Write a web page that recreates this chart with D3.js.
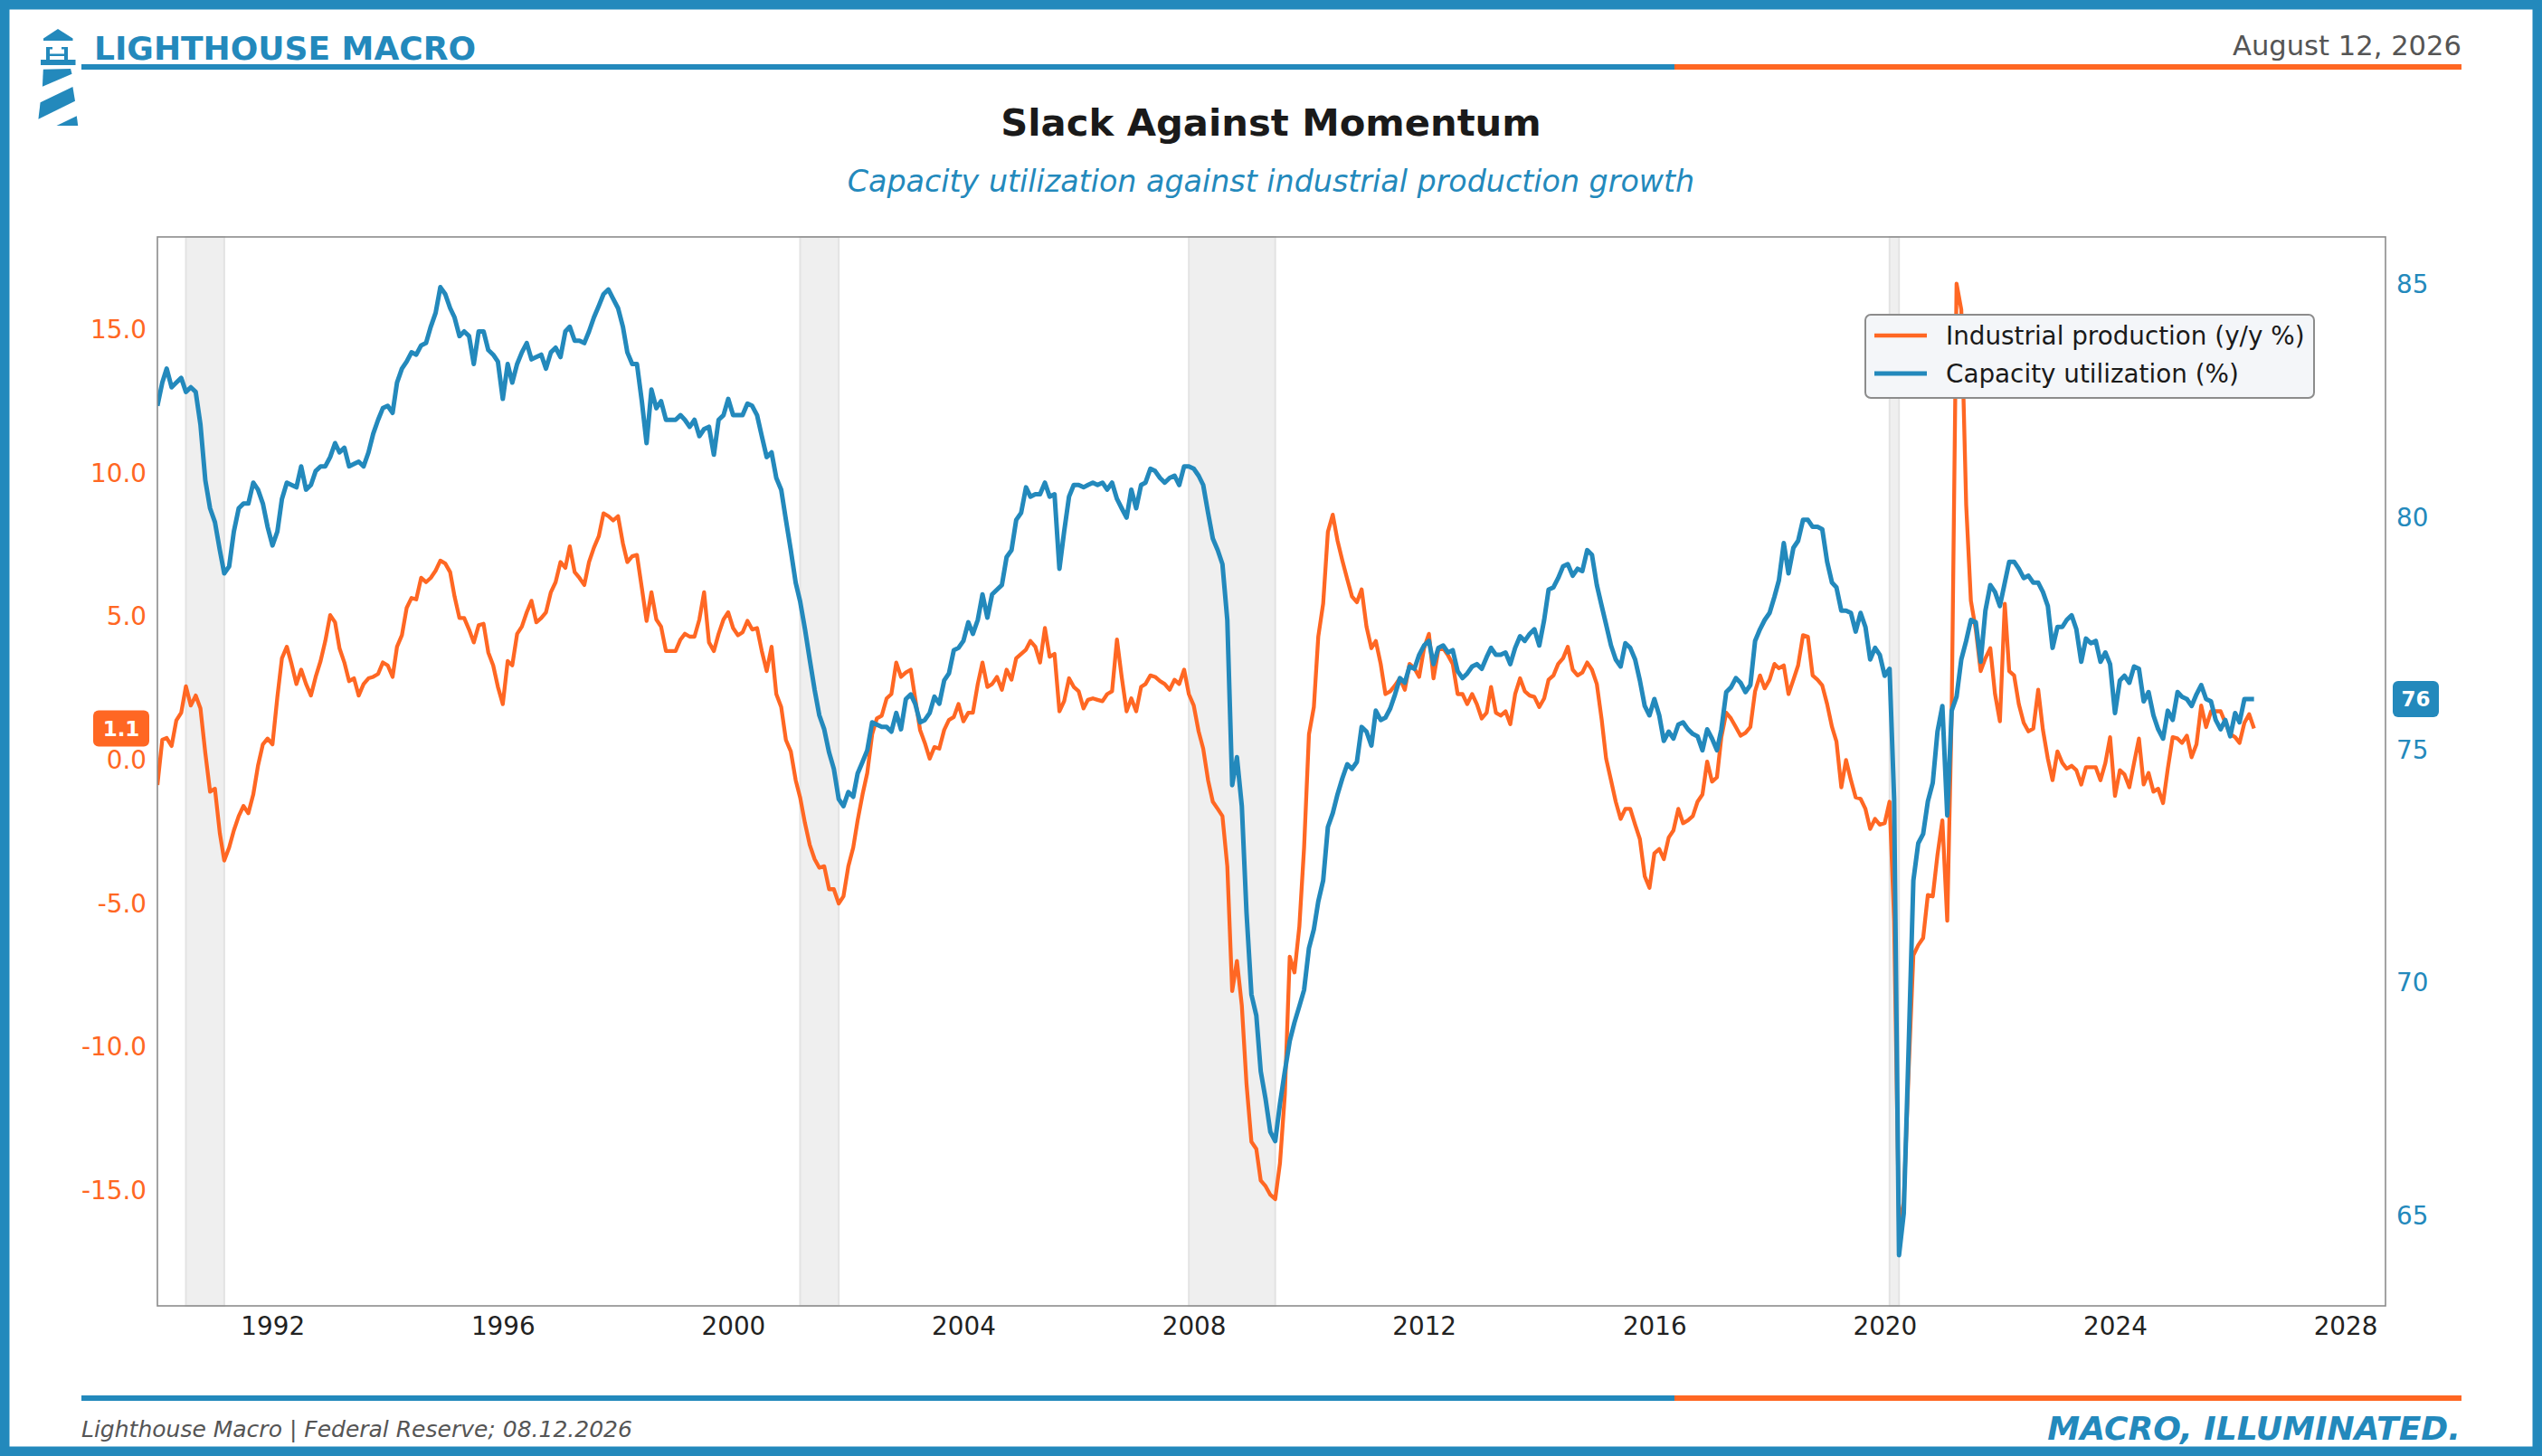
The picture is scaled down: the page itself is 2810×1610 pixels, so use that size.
<!DOCTYPE html>
<html>
<head>
<meta charset="utf-8">
<title>Slack Against Momentum</title>
<script src="https://cdn.jsdelivr.net/npm/d3@7"></script>
<style>
  body { margin: 0; background: #fff; }
  svg { display: block; }
  text { font-family: "DejaVu Sans", sans-serif; }
</style>
</head>
<body>
<script>
//////////////////////////////////////////////////////////////////////////////
// Data: monthly values starting January 1990

// Industrial production, year over year %
let ipYoY = [
  -0.87, 0.71, 0.77, 0.49, 1.38, 1.65, 2.57, 1.9, 2.25, 1.8, 0.24, -1.1,
  -1.0, -2.55, -3.5, -3.05, -2.45, -1.95, -1.6, -1.85, -1.2, -0.2, 0.55, 0.75,
  0.55, 2.2, 3.55, 3.95, 3.35, 2.65, 3.15, 2.65, 2.25, 2.9, 3.45, 4.15,
  5.05, 4.8, 3.9, 3.4, 2.75, 2.85, 2.25, 2.65, 2.85, 2.9, 3.0, 3.4,
  3.3, 2.9, 3.95, 4.35, 5.3, 5.65, 5.6, 6.35, 6.2, 6.35, 6.6, 6.95,
  6.85, 6.55, 5.7, 4.95, 4.95, 4.55, 4.1, 4.7, 4.75, 3.75, 3.3, 2.55,
  1.95, 3.45, 3.3, 4.4, 4.65, 5.15, 5.55, 4.8, 4.95, 5.15, 5.85, 6.2,
  6.9, 6.7, 7.45, 6.55, 6.35, 6.1, 6.9, 7.4, 7.8, 8.6, 8.5, 8.35,
  8.5, 7.55, 6.9, 7.1, 7.15, 6.0, 4.85, 5.85, 4.9, 4.65, 3.8, 3.8,
  3.8, 4.2, 4.4, 4.3, 4.3, 4.9, 5.85, 4.1, 3.8, 4.4, 4.9, 5.15,
  4.6, 4.35, 4.45, 4.85, 4.55, 4.6, 3.8, 3.1, 3.95, 2.3, 1.85, 0.7,
  0.3, -0.7, -1.3, -2.2, -2.95, -3.45, -3.75, -3.7, -4.5, -4.5, -5.0, -4.75,
  -3.7, -3.05, -2.1, -1.2, -0.45, 0.9, 1.45, 1.55, 2.15, 2.3, 3.4, 2.9,
  3.05, 3.15, 2.15, 1.05, 0.6, 0.05, 0.45, 0.4, 1.05, 1.4, 1.5, 1.95,
  1.35, 1.65, 1.65, 2.65, 3.4, 2.55, 2.65, 2.9, 2.45, 3.15, 2.8, 3.55,
  3.7, 3.85, 4.15, 3.95, 3.4, 4.6, 3.6, 3.7, 1.7, 2.05, 2.85, 2.55,
  2.4, 1.8, 2.1, 2.15, 2.1, 2.05, 2.3, 2.4, 4.2, 2.9, 1.7, 2.15,
  1.7, 2.55, 2.65, 2.95, 2.9, 2.75, 2.65, 2.45, 2.8, 2.65, 3.15, 2.3,
  1.9, 1.0, 0.4, -0.7, -1.45, -1.7, -1.95, -3.7, -8.05, -7.0, -8.55, -11.3,
  -13.3, -13.55, -14.65, -14.85, -15.15, -15.3, -14.05, -11.65, -6.85, -7.4, -5.8, -3.05,
  0.9, 1.85, 4.3, 5.45, 7.95, 8.55, 7.65, 6.95, 6.3, 5.7, 5.5, 5.95,
  4.65, 3.9, 4.15, 3.35, 2.3, 2.4, 2.6, 2.85, 2.45, 3.35, 3.2, 2.9,
  3.9, 4.4, 2.85, 3.85, 3.9, 3.65, 3.35, 2.3, 2.3, 1.95, 2.3, 1.95,
  1.45, 1.65, 2.55, 1.65, 1.55, 1.7, 1.25, 2.3, 2.85, 2.4, 2.25, 2.2,
  1.85, 2.15, 2.8, 2.95, 3.35, 3.55, 3.95, 3.15, 2.95, 3.05, 3.4, 3.15,
  2.65, 1.4, 0.05, -0.7, -1.45, -2.05, -1.7, -1.7, -2.25, -2.75, -4.05, -4.45,
  -3.25, -3.1, -3.45, -2.7, -2.45, -1.7, -2.2, -2.1, -1.95, -1.45, -1.2, -0.05,
  -0.75, -0.6, 0.8, 1.65, 1.45, 1.15, 0.85, 0.95, 1.15, 2.4, 2.95, 2.5,
  2.8, 3.35, 3.2, 3.3, 2.3, 2.8, 3.3, 4.35, 4.3, 2.95, 2.8, 2.6,
  1.95, 1.15, 0.65, -0.95, 0.0, -0.7, -1.3, -1.35, -1.7, -2.4, -2.05, -2.25,
  -2.2, -1.45, -5.6, -16.3, -15.4, -10.8, -6.8, -6.45, -6.2, -4.7, -4.75, -3.3,
  -2.1, -5.6, 1.65, 16.6, 15.7, 8.9, 5.55, 4.55, 3.1, 3.55, 3.9, 2.3,
  1.35, 5.45, 3.1, 2.95, 1.95, 1.3, 1.0, 1.1, 2.45, 1.05, 0.05, -0.7,
  0.3, -0.1, -0.3, -0.2, -0.35, -0.85, -0.25, -0.25, -0.25, -0.7, -0.1, 0.8,
  -1.25, -0.35, -0.5, -0.95, -0.1, 0.75, -0.85, -0.45, -1.1, -1.0, -1.5, -0.3,
  0.8, 0.75, 0.6, 0.85, 0.1, 0.55, 1.9, 1.15, 1.7, 1.7, 1.7, 1.3,
  0.9, 0.8, 0.6, 1.3, 1.6, 1.1
];

// Capacity utilization, %
let capUtil = [
  82.4, 82.9, 83.2, 82.8, 82.9, 83.0, 82.7, 82.8, 82.7, 82.0, 80.8, 80.2,
  79.9, 79.3, 78.8, 78.95, 79.7, 80.2, 80.3, 80.3, 80.75, 80.6, 80.3, 79.8,
  79.4, 79.7, 80.4, 80.75, 80.7, 80.65, 81.1, 80.6, 80.7, 81.0, 81.1, 81.1,
  81.3, 81.6, 81.4, 81.5, 81.1, 81.15, 81.2, 81.1, 81.4, 81.8, 82.1, 82.35,
  82.4, 82.25, 82.9, 83.2, 83.35, 83.55, 83.5, 83.7, 83.75, 84.1, 84.4, 84.95,
  84.8, 84.5, 84.3, 83.9, 84.0, 83.9, 83.3, 84.0, 84.0, 83.6, 83.5, 83.35,
  82.55, 83.3, 82.9, 83.3, 83.55, 83.75, 83.4, 83.45, 83.5, 83.2, 83.55, 83.65,
  83.45, 84.0, 84.1, 83.8, 83.8, 83.75, 84.0, 84.3, 84.55, 84.8, 84.9, 84.7,
  84.5, 84.1, 83.55, 83.3, 83.3, 82.5, 81.6, 82.75, 82.35, 82.5, 82.1, 82.1,
  82.1, 82.2, 82.1, 81.95, 82.1, 81.75, 81.9, 81.95, 81.35, 82.1, 82.2, 82.55,
  82.2, 82.2, 82.2, 82.45, 82.4, 82.2, 81.75, 81.3, 81.4, 80.85, 80.6, 79.95,
  79.3, 78.6, 78.2, 77.6, 76.95, 76.3, 75.75, 75.45, 74.95, 74.6, 73.95, 73.8,
  74.1, 74.0, 74.5, 74.75, 75.0, 75.6, 75.55, 75.5, 75.5, 75.4, 75.8, 75.45,
  76.1, 76.2, 76.0, 75.6, 75.65, 75.8, 76.15, 76.0, 76.5, 76.65, 77.15, 77.2,
  77.35, 77.75, 77.5, 77.8, 78.35, 77.85, 78.35, 78.45, 78.55, 79.15, 79.3, 79.95,
  80.1, 80.65, 80.45, 80.5, 80.5, 80.75, 80.45, 80.5, 78.9, 79.7, 80.45, 80.7,
  80.7, 80.65, 80.7, 80.75, 80.7, 80.75, 80.6, 80.75, 80.4, 80.2, 80.0, 80.6,
  80.2, 80.7, 80.75, 81.05, 81.0, 80.85, 80.75, 80.85, 80.9, 80.7, 81.1, 81.1,
  81.05, 80.9, 80.7, 80.1, 79.55, 79.3, 79.0, 77.8, 74.25, 74.85, 73.8, 71.5,
  69.75, 69.3, 68.1, 67.5, 66.8, 66.6, 67.4, 68.1, 68.75, 69.15, 69.5, 69.85,
  70.75, 71.15, 71.75, 72.2, 73.35, 73.65, 74.05, 74.4, 74.7, 74.6, 74.75, 75.5,
  75.4, 75.1, 75.85, 75.65, 75.7, 75.9, 76.2, 76.55, 76.45, 76.8, 76.75, 77.05,
  77.25, 77.35, 76.85, 77.2, 77.25, 77.1, 77.15, 76.7, 76.55, 76.65, 76.8, 76.85,
  76.75, 77.0, 77.2, 77.05, 77.05, 77.1, 76.85, 77.2, 77.45, 77.35, 77.5, 77.6,
  77.25, 77.8, 78.45, 78.5, 78.7, 78.95, 79.0, 78.75, 78.9, 78.85, 79.3, 79.2,
  78.55, 78.1, 77.7, 77.25, 76.95, 76.8, 77.3, 77.2, 76.95, 76.5, 75.95, 75.75,
  76.1, 75.75, 75.2, 75.4, 75.25, 75.55, 75.6, 75.45, 75.35, 75.3, 75.0, 75.45,
  75.25, 75.0, 75.45, 76.25, 76.35, 76.55, 76.45, 76.25, 76.4, 77.35, 77.6, 77.8,
  77.95, 78.3, 78.65, 79.45, 78.8, 79.35, 79.5, 79.95, 79.95, 79.8, 79.8, 79.75,
  79.05, 78.6, 78.5, 78.0, 78.0, 77.95, 77.55, 77.95, 77.65, 76.95, 77.2, 77.05,
  76.6, 76.75, 73.95, 64.15, 65.05, 68.6, 72.2, 73.0, 73.2, 73.9, 74.3, 75.4,
  75.95, 73.6, 75.85, 76.15, 76.95, 77.35, 77.8, 77.75, 76.9, 78.0, 78.55, 78.4,
  78.1, 78.6, 79.05, 79.05, 78.9, 78.7, 78.75, 78.6, 78.6, 78.4, 78.1, 77.2,
  77.65, 77.65, 77.8, 77.9, 77.6, 76.9, 77.4, 77.3, 77.35, 76.9, 77.1, 76.85,
  75.8, 76.5, 76.6, 76.45, 76.8, 76.75, 76.05, 76.25, 75.75, 75.45, 75.25, 75.85,
  75.65, 76.25, 76.15, 76.1, 75.95, 76.2, 76.4, 76.1, 76.05, 75.65, 75.45, 75.65,
  75.3, 75.8, 75.6, 76.1, 76.1, 76.1
];

// NBER recessions (start month, end month)
let recessions = [
  ["1990-07-01", "1991-03-01"],
  ["2001-03-01", "2001-11-01"],
  ["2007-12-01", "2009-06-01"],
  ["2020-02-01", "2020-04-01"]
];

let yearTicks = [1992, 1996, 2000, 2004, 2008, 2012, 2016, 2020, 2024, 2028];
let ipTicks = [-15, -10, -5, 0, 5, 10, 15];
let cuTicks = [65, 70, 75, 80, 85];

//////////////////////////////////////////////////////////////////////////////
// Canvas and scales

let width = 2810;
let height = 1610;
let blue = "#2389bc";
let orange = "#ff6723";
let plot = { left: 174, right: 2637, top: 262, bottom: 1444 };

let parseDate = d3.timeParse("%Y-%m-%d");
let dates = ipYoY.map((d, i) => new Date(1990, i, 1));

let svg = d3.select("body").append("svg")
  .attr("width", width)
  .attr("height", height);

let x = d3.scaleTime()
  .domain([new Date(1990, 0, 1), new Date(2028, 8, 12)])
  .range([plot.left, plot.right]);

let yIP = d3.scaleLinear()
  .domain([-19.02, 18.23])
  .range([plot.bottom, plot.top]);

let yCU = d3.scaleLinear()
  .domain([63.06, 86.03])
  .range([plot.bottom, plot.top]);

//////////////////////////////////////////////////////////////////////////////
// Frame, header and footer

svg.append("rect")
  .attr("x", 5.25).attr("y", 5.25)
  .attr("width", width - 10.5).attr("height", height - 10.5)
  .attr("fill", "#fff")
  .attr("stroke", blue)
  .attr("stroke-width", 10.5);

// lighthouse logo
let logo = svg.append("g").attr("fill", blue);
logo.append("polygon").attr("points", "64,32 80.5,42.5 80.5,45 48,45 48,42.5");
logo.append("rect").attr("x", 51).attr("y", 52).attr("width", 4).attr("height", 15);
logo.append("rect").attr("x", 71).attr("y", 52).attr("width", 4).attr("height", 15);
logo.append("rect").attr("x", 51).attr("y", 52).attr("width", 7).attr("height", 2.5);
logo.append("rect").attr("x", 68).attr("y", 52).attr("width", 7).attr("height", 2.5);
logo.append("rect").attr("x", 51).attr("y", 59.5).attr("width", 24).attr("height", 2.5);
logo.append("rect").attr("x", 45).attr("y", 66).attr("width", 38.5).attr("height", 6);
logo.append("polygon").attr("points", "47.8,76.7 78.1,76 79.5,81.7 46.9,95.7");
logo.append("polygon").attr("points", "44.6,113.3 80.4,96 83,111.7 42.4,131.7");
logo.append("polygon").attr("points", "62.5,139 84.8,128.3 86.2,139");

svg.append("text")
  .attr("x", 104).attr("y", 66)
  .attr("fill", blue)
  .style("font-size", "36px")
  .style("font-weight", "bold")
  .text("LIGHTHOUSE MACRO");

svg.append("text")
  .attr("x", 2721).attr("y", 61)
  .attr("text-anchor", "end")
  .attr("fill", "#555")
  .style("font-size", "30.6px")
  .text("August 12, 2026");

// two-tone rules under the header and above the footer
[74, 1546].forEach(function (yy) {
  svg.append("rect").attr("x", 90).attr("y", yy - 3)
    .attr("width", 1851 - 90).attr("height", 6).attr("fill", blue);
  svg.append("rect").attr("x", 1851).attr("y", yy - 3)
    .attr("width", 2721 - 1851).attr("height", 6).attr("fill", orange);
});

svg.append("text")
  .attr("x", 1405).attr("y", 150)
  .attr("text-anchor", "middle")
  .attr("fill", "#1a1a1a")
  .style("font-size", "41.7px")
  .style("font-weight", "bold")
  .text("Slack Against Momentum");

svg.append("text")
  .attr("x", 1405).attr("y", 212)
  .attr("text-anchor", "middle")
  .attr("fill", blue)
  .style("font-size", "33.3px")
  .style("font-style", "italic")
  .text("Capacity utilization against industrial production growth");

svg.append("text")
  .attr("x", 90).attr("y", 1589)
  .attr("fill", "#555")
  .style("font-size", "25px")
  .style("font-style", "italic")
  .text("Lighthouse Macro | Federal Reserve; 08.12.2026");

svg.append("text")
  .attr("x", 2720).attr("y", 1592)
  .attr("text-anchor", "end")
  .attr("fill", blue)
  .style("font-size", "36.1px")
  .style("font-weight", "bold")
  .style("font-style", "italic")
  .text("MACRO, ILLUMINATED.");

//////////////////////////////////////////////////////////////////////////////
// Plot area

svg.append("clipPath").attr("id", "plot-clip")
  .append("rect")
  .attr("x", plot.left).attr("y", plot.top)
  .attr("width", plot.right - plot.left).attr("height", plot.bottom - plot.top);

// recession shading
svg.append("g")
  .selectAll("rect")
  .data(recessions)
  .join("rect")
  .attr("x", d => x(parseDate(d[0])))
  .attr("y", plot.top)
  .attr("width", d => x(parseDate(d[1])) - x(parseDate(d[0])))
  .attr("height", plot.bottom - plot.top)
  .attr("fill", "#efefef")
  .attr("stroke", "#e3e3e3")
  .attr("stroke-width", 2);

let lines = svg.append("g").attr("clip-path", "url(#plot-clip)");

let ipLine = d3.line()
  .x((d, i) => x(dates[i]))
  .y(d => yIP(d));

let cuLine = d3.line()
  .x((d, i) => x(dates[i]))
  .y(d => yCU(d));

lines.append("path")
  .datum(ipYoY)
  .attr("d", ipLine)
  .attr("fill", "none")
  .attr("stroke", orange)
  .attr("stroke-width", 4.3)
  .attr("stroke-linejoin", "round");

lines.append("path")
  .datum(capUtil)
  .attr("d", cuLine)
  .attr("fill", "none")
  .attr("stroke", blue)
  .attr("stroke-width", 5)
  .attr("stroke-linejoin", "round");

// spines
svg.append("rect")
  .attr("x", plot.left).attr("y", plot.top)
  .attr("width", plot.right - plot.left).attr("height", plot.bottom - plot.top)
  .attr("fill", "none")
  .attr("stroke", "#8c8c8c")
  .attr("stroke-width", 1.6);

// axes
function styleAxis(g, color) {
  g.select(".domain").remove();
  g.selectAll("text")
    .attr("fill", color)
    .style("font-family", "'DejaVu Sans', sans-serif")
    .style("font-size", "27.8px");
}

svg.append("g")
  .attr("transform", `translate(${plot.left},0)`)
  .call(d3.axisLeft(yIP).tickValues(ipTicks).tickFormat(d => d.toFixed(1))
    .tickSize(0).tickPadding(12))
  .call(g => styleAxis(g, orange));

svg.append("g")
  .attr("transform", `translate(${plot.right},0)`)
  .call(d3.axisRight(yCU).tickValues(cuTicks).tickFormat(d3.format("d"))
    .tickSize(0).tickPadding(12))
  .call(g => styleAxis(g, blue));

svg.append("g")
  .attr("transform", `translate(0,${plot.bottom})`)
  .call(d3.axisBottom(x).tickValues(yearTicks.map(yr => new Date(yr, 0, 1)))
    .tickFormat(d3.timeFormat("%Y")).tickSize(0).tickPadding(12))
  .call(g => styleAxis(g, "#222"));

// last-value tags
let lastIP = ipYoY[ipYoY.length - 1];
let lastCU = capUtil[capUtil.length - 1];

let tags = [
  { x0: 103, w: 62, y: yIP(lastIP), fill: orange, label: lastIP.toFixed(1) },
  { x0: 2645, w: 51, y: yCU(lastCU), fill: blue, label: d3.format(".0f")(lastCU) }
];

tags.forEach(function (t) {
  svg.append("rect")
    .attr("x", t.x0).attr("y", t.y - 20)
    .attr("width", t.w).attr("height", 40)
    .attr("rx", 6)
    .attr("fill", t.fill);
  svg.append("text")
    .attr("x", t.x0 + t.w / 2).attr("y", t.y)
    .attr("dy", "0.36em")
    .attr("text-anchor", "middle")
    .attr("fill", "#fff")
    .style("font-size", "23px")
    .style("font-weight", "bold")
    .text(t.label);
});

// legend
let legend = svg.append("g");
legend.append("rect")
  .attr("x", 2062).attr("y", 348)
  .attr("width", 496).attr("height", 92)
  .attr("rx", 6)
  .attr("fill", "#f4f6f9")
  .attr("stroke", "#8c8c8c")
  .attr("stroke-width", 2);

let legendItems = [
  { label: "Industrial production (y/y %)", color: orange, w: 4.3 },
  { label: "Capacity utilization (%)", color: blue, w: 5 }
];

legendItems.forEach(function (item, i) {
  let cy = 371 + i * 42;
  legend.append("line")
    .attr("x1", 2072).attr("x2", 2130)
    .attr("y1", cy).attr("y2", cy)
    .attr("stroke", item.color)
    .attr("stroke-width", item.w);
  legend.append("text")
    .attr("x", 2151).attr("y", cy + 10)
    .attr("fill", "#1a1a1a")
    .style("font-size", "27.8px")
    .text(item.label);
});
</script>
</body>
</html>
